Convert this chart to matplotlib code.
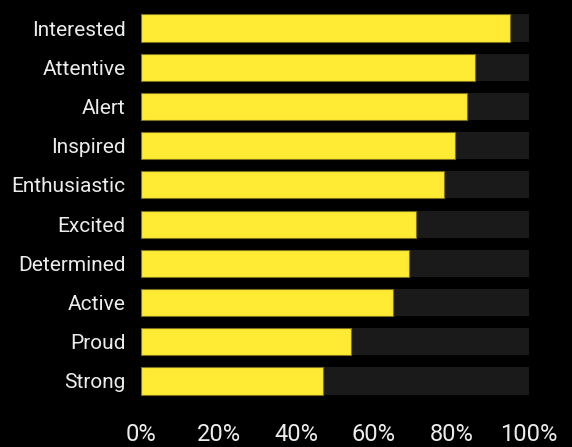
import matplotlib
matplotlib.use("Agg")
import matplotlib.pyplot as plt

# share of respondents reporting each feeling (%)
categories = ["Interested", "Attentive", "Alert", "Inspired", "Enthusiastic",
              "Excited", "Determined", "Active", "Proud", "Strong"]
values = [95, 86, 84, 81, 78, 71, 69, 65, 54, 47]
tick_values = [0, 20, 40, 60, 80, 100]
tick_labels = ["0%", "20%", "40%", "60%", "80%", "100%"]

plt.rcParams["font.family"] = ["Roboto", "DejaVu Sans"]

fig = plt.figure(figsize=(5.72, 4.47), dpi=100, facecolor="black")
W, H = 572, 447
left, right, top, bottom = 141, 529, 8.4, 400.6
ax = fig.add_axes([left / W, 1 - bottom / H, (right - left) / W, (bottom - top) / H])
ax.set_facecolor("black")

ypos = list(range(len(categories)))
# grey track behind every bar, running to 100%
ax.barh(ypos, [100] * len(categories), height=0.69, color="#1a1a1a", linewidth=0)
ax.barh(ypos, values, height=0.69, color="#ffeb33", edgecolor="#7d7020", linewidth=0.8)

ax.set_xlim(0, 100)
ax.set_ylim(len(categories) - 0.5, -0.5)
ax.set_yticks(ypos)
ax.set_yticklabels(categories, fontsize=15, color="#ececec")
ax.set_xticks(tick_values)
ax.set_xticklabels(tick_labels, fontsize=17, color="#ececec")
ax.tick_params(axis="y", length=0, pad=11)
ax.tick_params(axis="x", length=0, pad=16)
for s in ax.spines.values():
    s.set_visible(False)

fig.savefig("out.png", dpi=100, facecolor="black")
